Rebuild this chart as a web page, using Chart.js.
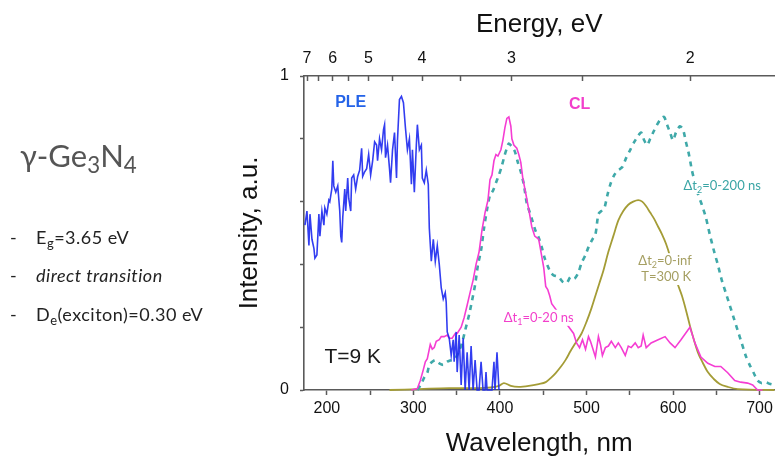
<!DOCTYPE html>
<html>
<head>
<meta charset="utf-8">
<script src="https://cdn.jsdelivr.net/npm/chart.js@4/dist/chart.umd.min.js"></script>
<style>
  html, body { margin:0; padding:0; background:#fff; overflow:hidden; }
  #wrap { position:relative; width:777px; height:461px; }
  #c { position:absolute; left:0; top:0; }
  .side { position:absolute; font-family: Lato, "Open Sans", sans-serif; color:#222; white-space:nowrap; }
  .side sub { font-size:0.72em; vertical-align:-0.28em; line-height:0; }
  .title { left:20px; top:136px; font-size:31px; color:#555; }
  .dash { left:10px; font-size:18px; }
  .item { left:36px; font-size:18px; letter-spacing:0.5px; }
</style>
</head>
<body>
<div id="wrap">
  <canvas id="c" width="777" height="461"></canvas>
  <div class="side title">γ-Ge<sub>3</sub>N<sub>4</sub></div>
  <div class="side dash" style="top:226px">-</div>
  <div class="side item" style="top:226px">E<sub>g</sub>=3.65 eV</div>
  <div class="side dash" style="top:264px">-</div>
  <div class="side item" style="top:264px;font-style:italic">direct transition</div>
  <div class="side dash" style="top:303px">-</div>
  <div class="side item" style="top:303px">D<sub>e</sub>(exciton)=0.30 eV</div>
</div>
<script>
// ---------- data (wavelength in nm, intensity in a.u.) ----------
const pleWl = [174.7,177.0,179.3,180.5,182.8,185.1,186.2,188.5,190.8,192.0,
  194.3,196.6,197.7,200.0,202.3,203.4,205.7,206.9,208.0,210.3,
  212.6,214.9,216.1,217.2,218.4,220.7,221.8,224.1,225.3,227.6,
  228.7,231.0,233.3,235.6,237.9,240.2,241.4,243.7,246.0,248.3,
  250.6,252.9,255.2,257.5,258.6,260.9,263.2,265.5,266.7,267.8,
  270.1,272.4,273.6,275.9,278.2,280.5,281.6,283.9,286.2,288.5,
  290.8,293.1,295.4,297.7,298.9,301.1,303.4,304.6,306.9,309.2,
  310.3,312.6,314.9,317.2,318.4,320.7,323.0,325.3,327.6,329.9,
  332.2,334.5,336.8,337.9,339.1,341.4,343.7,346.0,347.1,349.4,
  350.6,352.9,355.2,357.5,359.8,362.1,364.4,366.7,369.0,371.3,
  373.6,375.9,378.2,380.5,382.8,383.9,385.1,387.4,390.8,393.1,
  394.3,396.6,398.9];
const pleI = [0.525,0.57,0.46,0.56,0.48,0.45,0.42,0.43,0.56,0.49,
  0.57,0.525,0.58,0.56,0.605,0.60,0.64,0.73,0.65,0.63,
  0.65,0.57,0.49,0.47,0.55,0.64,0.57,0.675,0.61,0.57,
  0.675,0.685,0.64,0.68,0.70,0.77,0.68,0.695,0.705,0.75,
  0.685,0.73,0.79,0.78,0.73,0.80,0.765,0.83,0.845,0.74,
  0.78,0.705,0.66,0.765,0.82,0.675,0.795,0.925,0.935,0.915,
  0.835,0.765,0.80,0.655,0.765,0.63,0.78,0.845,0.765,0.78,
  0.675,0.66,0.70,0.655,0.515,0.41,0.48,0.41,0.46,0.40,
  0.325,0.29,0.31,0.28,0.185,0.165,0.11,0.16,0.09,0.185,
  0.057,0.175,0.016,0.165,0,0.12,0,0.14,0,0.095,
  0,0,0.09,0,0,0.057,0,0,0,0.09,
  0,0.12,0];

const clWl = [297.7,304.6,308.0,311.5,313.8,316.1,319.5,321.8,324.1,326.4,
  329.9,332.2,335.6,339.1,341.4,344.8,348.3,350.6,355.2,358.6,
  362.1,365.5,369.0,372.4,375.9,379.3,382.8,386.2,388.5,390.8,
  393.1,395.4,397.7,401.1,403.4,405.7,408.0,410.3,412.6,413.8,
  416.1,419.5,421.8,424.1,426.4,429.9,433.3,436.8,440.2,442.5,
  444.8,447.1,450.6,452.9,455.2,457.5,459.8,485.1,488.5,492.0,
  495.4,498.9,502.3,504.6,506.9,510.3,513.8,516.1,518.4,521.8,
  525.3,528.7,533.3,536.8,540.2,544.8,548.3,551.7,556.3,559.8,
  563.2,565.5,569.0,574.7,582.8,590.8,596.6,602.3,609.2,619.5,
  625.3,632.2,640.2,648.3,655.2,663.2,671.3,678.2,686.2,692.0,
  697.7,703.4];
const clI = [0,0.005,0.03,0.065,0.09,0.10,0.145,0.13,0.135,0.155,
  0.16,0.17,0.17,0.175,0.165,0.165,0.18,0.18,0.20,0.23,
  0.27,0.31,0.35,0.40,0.44,0.51,0.565,0.605,0.67,0.685,
  0.73,0.75,0.745,0.765,0.795,0.835,0.865,0.87,0.84,0.80,
  0.78,0.77,0.75,0.725,0.675,0.625,0.575,0.52,0.49,0.485,
  0.48,0.445,0.39,0.33,0.32,0.30,0.275,0.18,0.15,0.135,
  0.16,0.13,0.17,0.155,0.135,0.105,0.17,0.145,0.11,0.135,
  0.14,0.155,0.135,0.15,0.135,0.11,0.14,0.135,0.15,0.135,
  0.14,0.175,0.135,0.15,0.16,0.17,0.15,0.135,0.16,0.20,
  0.15,0.105,0.085,0.075,0.075,0.055,0.03,0.025,0.022,0.016,
  0,0];

const dt2Wl = [304.6,309.2,312.6,316.1,318.4,321.8,325.3,329.9,334.5,339.1,
  343.7,348.3,352.9,356.3,359.8,364.4,367.8,371.3,374.7,378.2,
  381.6,385.1,388.5,392.0,395.4,398.9,402.3,405.7,408.0,410.3,
  413.8,417.2,420.7,424.1,427.6,431.0,434.5,437.9,441.4,444.8,
  448.3,451.7,455.2,458.6,462.1,467.8,472.4,477.0,481.6,486.2,
  490.8,494.3,498.9,502.3,506.9,510.3,513.8,517.2,520.7,524.1,
  527.6,532.2,536.8,541.4,546.0,550.6,555.2,559.8,563.2,566.7,
  570.1,573.6,577.0,581.6,586.2,589.7,593.1,596.6,600.0,603.4,
  608.0,611.5,614.9,618.4,621.8,625.3,628.7,633.3,637.9,642.5,
  647.1,651.7,656.3,660.9,665.5,670.1,674.7,679.3,683.9,688.5,
  693.1,697.7,702.3,706.9,711.5,717.2];
const dt2I = [0,0.02,0.04,0.055,0.08,0.09,0.095,0.085,0.08,0.09,
  0.095,0.10,0.125,0.15,0.19,0.24,0.285,0.335,0.40,0.445,
  0.515,0.575,0.62,0.635,0.66,0.685,0.715,0.75,0.77,0.785,
  0.775,0.76,0.725,0.695,0.655,0.595,0.565,0.535,0.505,0.485,
  0.455,0.42,0.395,0.375,0.365,0.36,0.345,0.34,0.36,0.355,
  0.375,0.405,0.43,0.455,0.48,0.495,0.56,0.57,0.58,0.62,
  0.655,0.685,0.70,0.71,0.74,0.765,0.79,0.81,0.82,0.795,
  0.78,0.80,0.82,0.845,0.865,0.87,0.845,0.82,0.795,0.82,
  0.84,0.83,0.79,0.75,0.70,0.66,0.625,0.59,0.55,0.495,
  0.445,0.40,0.35,0.31,0.27,0.23,0.19,0.15,0.11,0.08,
  0.055,0.03,0.022,0.025,0.02,0.016];

const rtWl = [272.4,306.9,341.4,375.9,398.9,404.6,412.6,421.8,433.3,444.8,
  452.9,458.6,464.4,470.1,475.9,481.6,487.4,494.3,500.0,505.7,
  510.3,514.9,519.5,525.3,531.0,536.8,542.5,548.3,554.0,559.8,
  564.4,569.0,573.6,578.2,582.8,587.4,592.0,596.6,601.1,605.7,
  610.3,614.9,619.5,624.1,628.7,634.5,640.2,647.1,654.0,663.2,
  674.7,717.2];
const rtI = [0,0.003,0.006,0.006,0.013,0.022,0.013,0.01,0.013,0.019,
  0.025,0.038,0.054,0.073,0.096,0.124,0.15,0.18,0.217,0.26,
  0.30,0.34,0.38,0.44,0.49,0.54,0.57,0.59,0.60,0.605,
  0.60,0.585,0.565,0.545,0.52,0.495,0.465,0.425,0.375,0.335,
  0.30,0.255,0.205,0.16,0.12,0.086,0.057,0.035,0.019,0.01,
  0.003,0];

// axis ticks
const wlTicks = [200,250,300,350,400,450,500,550,600,650,700];
const wlTickLabels = ['200','','300','','400','','500','','600','','700'];
const energyTicks = [7,6.5,6,5.5,5,4.5,4,3.5,3,2.5,2];
const energyTickLabels = ['7','','6','','5','','4','','3','','2'];
const yTicks = [0,0.2,0.4,0.6,0.8,1];
const yTickLabels = ['0','','','','','1'];
const HC = 1239.84; // eV*nm
const X_MIN = 173.6, X_MAX = 717.2;

// text annotations (data coordinates)
const NOTES = [
  {parts:[{t:'PLE'}], x:227.6, y:0.914, color:'#2463E8', size:16, weight:'bold', family:'"Liberation Sans", Arial'},
  {parts:[{t:'CL'}], x:492, y:0.91, color:'#F23FCB', size:16, weight:'bold', family:'"Liberation Sans", Arial'},
  {parts:[{t:'T=9 K'}], x:229.9, y:0.105, color:'#1a1a1a', size:21, family:'"Liberation Sans", Arial'},
  {parts:[{t:'Δt'},{t:'2',sub:true},{t:'=0-200 ns'}], x:656.8, y:0.65, color:'#3AA5A5', size:13, family:'Lato', bg:true},
  {parts:[{t:'Δt'},{t:'2',sub:true},{t:'=0-inf'}], x:590.8, y:0.41, color:'#A59F62', size:13, family:'Lato', bg:true},
  {parts:[{t:'T=300 K'}], x:592, y:0.36, color:'#A59F62', size:13, family:'Lato', bg:true},
  {parts:[{t:'Δt'},{t:'1',sub:true},{t:'=0-20 ns'}], x:444.8, y:0.23, color:'#F23FCB', size:13, family:'Lato', bg:true}
];

const toPts = (xs, ys) => xs.map((v, i) => ({x: v, y: ys[i]}));

const notePlugin = {
  id: 'notes',
  afterDatasetsDraw(chart) {
    const {ctx, scales: {x, y}} = chart;
    ctx.save();
    for (const n of NOTES) {
      const cx = x.getPixelForValue(n.x), cy = y.getPixelForValue(n.y);
      const main = `${n.weight || 'normal'} ${n.size}px ${n.family}`;
      const sub = `${n.weight || 'normal'} ${Math.round(n.size * 0.7)}px ${n.family}`;
      let w = 0;
      for (const p of n.parts) { ctx.font = p.sub ? sub : main; w += ctx.measureText(p.t).width; }
      let left = cx - w / 2;
      if (n.bg) { ctx.fillStyle = '#fff'; ctx.fillRect(left - 3, cy - n.size * 0.62, w + 6, n.size * 1.24); }
      ctx.fillStyle = n.color; ctx.textBaseline = 'middle'; ctx.textAlign = 'left';
      for (const p of n.parts) {
        ctx.font = p.sub ? sub : main;
        ctx.fillText(p.t, left, cy + (p.sub ? n.size * 0.3 : 0));
        left += ctx.measureText(p.t).width;
      }
    }
    ctx.restore();
  }
};

const FAM = '"Liberation Sans", Arial, sans-serif';
const AXC = '#5a5a5a';

new Chart(document.getElementById('c'), {
  type: 'line',
  data: {
    datasets: [
      {data: toPts(pleWl, pleI), borderColor: 'rgba(28,40,238,0.9)', borderWidth: 1.6, pointRadius: 0, tension: 0, clip: 4},
      {data: toPts(clWl, clI), borderColor: '#F53DD3', borderWidth: 1.6, pointRadius: 0, tension: 0, clip: 4},
      {data: toPts(dt2Wl, dt2I), borderColor: '#3FA9A9', borderWidth: 2.6, borderDash: [5, 5], pointRadius: 0, tension: 0.25, clip: 4},
      {data: toPts(rtWl, rtI), borderColor: '#A49C36', borderWidth: 1.8, pointRadius: 0, tension: 0.35, cubicInterpolationMode: 'monotone', clip: 4}
    ]
  },
  options: {
    responsive: false,
    animation: false,
    devicePixelRatio: 1,
    layout: {padding: {left: 226, right: 0, top: 0, bottom: 0}},
    plugins: {legend: {display: false}, tooltip: {enabled: false}},
    scales: {
      x: {
        type: 'linear', position: 'bottom', min: X_MIN, max: X_MAX,
        afterBuildTicks: s => { s.ticks = wlTicks.map(v => ({value: v})); },
        afterFit: s => { s.height = 71; },
        ticks: {autoSkip: false, maxRotation: 0, padding: 4, color: '#111',
          font: {family: FAM, size: 16}, callback: (v, i) => wlTickLabels[i]},
        grid: {drawOnChartArea: false, drawTicks: true, tickLength: 5, tickColor: AXC, tickWidth: 1.5},
        border: {color: AXC, width: 1.6},
        title: {display: true, text: 'Wavelength, nm', color: '#111', font: {family: FAM, size: 26}, padding: {top: 0, bottom: 2}}
      },
      xTop: {
        type: 'linear', position: 'top', min: X_MIN, max: X_MAX,
        afterBuildTicks: s => { s.ticks = energyTicks.map(e => ({value: HC / e})); },
        afterFit: s => { s.height = 76; },
        ticks: {autoSkip: false, maxRotation: 0, padding: 13, color: '#111',
          font: {family: FAM, size: 16}, callback: (v, i) => energyTickLabels[i]},
        grid: {drawOnChartArea: false, drawTicks: true, tickLength: -5, tickColor: AXC, tickWidth: 1.5},
        border: {color: AXC, width: 1.6},
        title: {display: true, text: 'Energy, eV', color: '#111', font: {family: FAM, size: 26}, padding: {top: 9, bottom: 0}}
      },
      y: {
        type: 'linear', position: 'left', min: 0, max: 1,
        afterBuildTicks: s => { s.ticks = yTicks.map(v => ({value: v})); },
        afterFit: s => { s.width = 78; },
        ticks: {autoSkip: false, padding: 11, color: '#111',
          font: {family: FAM, size: 16}, callback: (v, i) => yTickLabels[i]},
        grid: {drawOnChartArea: false, drawTicks: true, tickLength: 4, tickColor: AXC, tickWidth: 1.5},
        border: {color: AXC, width: 1.6},
        title: {display: true, text: 'Intensity, a.u.', color: '#111', font: {family: FAM, size: 26}, padding: {top: 8, bottom: 0}}
      }
    }
  },
  plugins: [notePlugin]
});
</script>
</body>
</html>
